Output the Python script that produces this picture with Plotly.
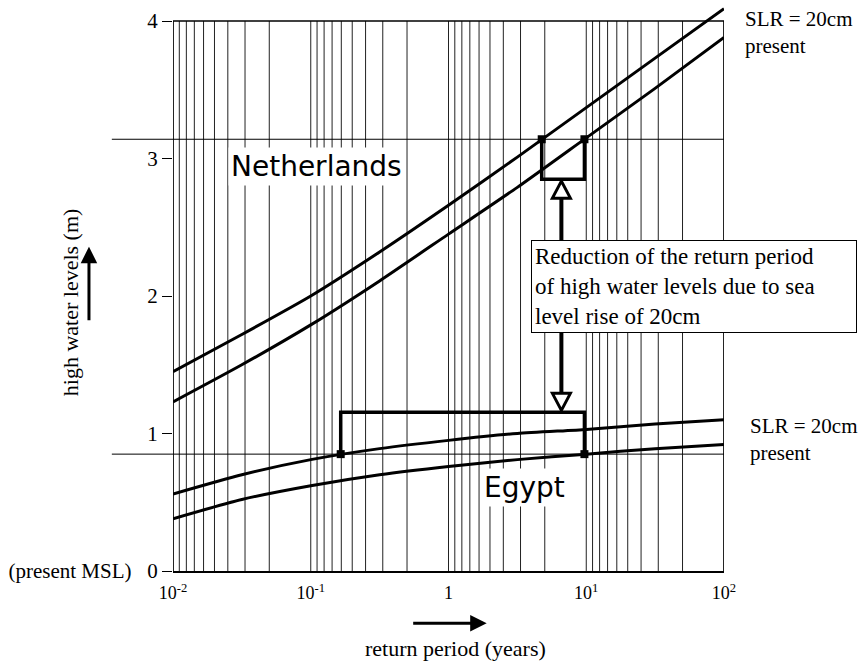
import math
import plotly.graph_objects as go

# ---- data ----
periods = [0.01, 0.0316, 0.1, 0.316, 1, 3.16, 10, 31.6, 100]          # return period (years)
nl_slr = [1.45, 1.72, 2.00, 2.32, 2.66, 3.01, 3.37, 3.73, 4.09]       # Netherlands, SLR = 20cm
nl_present = [1.23, 1.50, 1.79, 2.11, 2.45, 2.79, 3.15, 3.51, 3.88]   # Netherlands, present
eg_slr = [0.56, 0.70, 0.81, 0.89, 0.95, 1.00, 1.03, 1.07, 1.10]       # Egypt, SLR = 20cm
eg_present = [0.38, 0.52, 0.62, 0.70, 0.76, 0.81, 0.85, 0.89, 0.92]   # Egypt, present

nl_level = 3.14            # reference high water level, Netherlands
eg_level = 0.85            # reference high water level, Egypt
nl_periods = [4.75, 9.7]   # return period with SLR, present
eg_periods = [0.165, 9.7]
nl_bracket_y = 2.85
eg_bracket_y = 1.154
arrow_period = 6.6

x_ticks = [0.01, 0.1, 1, 10, 100]
x_ticktext = ["10<sup>-2</sup>", "10<sup>-1</sup>", "1", "10<sup>1</sup>", "10<sup>2</sup>"]
y_ticks = [0, 1, 2, 3, 4]
y_ticktext = ["(present MSL)\u00a0\u00a0\u00a00", "1", "2", "3", "4"]

# grid lines: each decade and decade/m (m = 2..9), as on the original paper
grid = []
for d in x_ticks[1:]:
    for m in range(9, 1, -1):
        grid.append(d / m)
grid += x_ticks
grid = sorted(set(round(g, 8) for g in grid))

SERIF = "Liberation Serif, Times New Roman, serif"
SANS = "DejaVu Sans, sans-serif"

fig = go.Figure()

# vertical grid lines (0 .. 4)
gx, gy = [], []
for g in grid:
    gx += [g, g, None]
    gy += [0, 4, None]
fig.add_trace(go.Scatter(x=gx, y=gy, mode="lines", line=dict(color="#222", width=1),
                         hoverinfo="skip", showlegend=False))

# curves
for ys in (nl_slr, nl_present, eg_slr, eg_present):
    fig.add_trace(go.Scatter(x=periods, y=ys, mode="lines",
                             line=dict(color="black", width=3, shape="spline", smoothing=0.6),
                             showlegend=False))

# brackets
fig.add_trace(go.Scatter(x=[nl_periods[0], nl_periods[0], nl_periods[1], nl_periods[1]],
                         y=[nl_level, nl_bracket_y, nl_bracket_y, nl_level],
                         mode="lines", line=dict(color="black", width=3.5), showlegend=False))
fig.add_trace(go.Scatter(x=[eg_periods[0], eg_periods[0], eg_periods[1], eg_periods[1]],
                         y=[eg_level, eg_bracket_y, eg_bracket_y, eg_level],
                         mode="lines", line=dict(color="black", width=3.5), showlegend=False))
# intersection markers
fig.add_trace(go.Scatter(x=nl_periods + eg_periods, y=[nl_level] * 2 + [eg_level] * 2,
                         mode="markers", marker=dict(symbol="square", size=8, color="black"),
                         showlegend=False))
# arrow shaft between the two brackets
fig.add_trace(go.Scatter(x=[arrow_period, arrow_period], y=[nl_bracket_y - 0.13, eg_bracket_y + 0.13],
                         mode="lines", line=dict(color="black", width=4), showlegend=False))

shapes = []
# frame: top line at 4, right border at 100, left axis line
shapes.append(dict(type="line", xref="x", yref="y", x0=0.01, x1=100, y0=4, y1=4,
                   line=dict(color="black", width=1.5)))
shapes.append(dict(type="line", xref="x", yref="y", x0=100, x1=100, y0=0, y1=4,
                   line=dict(color="black", width=1.5)))
shapes.append(dict(type="line", xref="x", yref="y", x0=0.01, x1=0.01, y0=0, y1=4,
                   line=dict(color="black", width=1.5)))
# horizontal reference levels (extend into left margin)
for lvl in (nl_level, eg_level):
    shapes.append(dict(type="line", xref="paper", yref="y", x0=-0.111, x1=1, y0=lvl, y1=lvl,
                       line=dict(color="black", width=1)))
# open arrowheads
shapes.append(dict(type="path", xref="x", yref="y", xsizemode="pixel", ysizemode="pixel",
                   xanchor=arrow_period, yanchor=nl_bracket_y,
                   path="M 0 -2 L 9 -19 L -9 -19 Z", fillcolor="white",
                   line=dict(color="black", width=3)))
shapes.append(dict(type="path", xref="x", yref="y", xsizemode="pixel", ysizemode="pixel",
                   xanchor=arrow_period, yanchor=eg_bracket_y,
                   path="M 0 2 L 9 19 L -9 19 Z", fillcolor="white",
                   line=dict(color="black", width=3)))

annotations = [
    dict(text="Reduction of the return period<br>of high water levels due to sea<br>level rise of 20cm",
         xref="paper", yref="paper", x=0.6497, y=0.5838, xanchor="left", yanchor="top",
         showarrow=False, align="left", width=318, font=dict(family=SERIF, size=23, color="black"),
         bgcolor="white", bordercolor="black", borderwidth=1, borderpad=3),
    dict(text="Netherlands", xref="x", yref="y", x=math.log10(0.11), y=2.94,
         xanchor="center", yanchor="middle",
         showarrow=False, font=dict(family=SANS, size=28, color="black"),
         bgcolor="white", borderpad=2),
    dict(text="Egypt", xref="x", yref="y", x=math.log10(3.57), y=0.61,
         xanchor="center", yanchor="middle",
         showarrow=False, font=dict(family=SANS, size=28, color="black"),
         bgcolor="white", borderpad=2),
    dict(text="SLR = 20cm<br>present", xref="paper", yref="paper", x=1.0345, y=0.949,
         xanchor="left", yanchor="middle", showarrow=False, align="left",
         font=dict(family=SERIF, size=21, color="black")),
    dict(text="SLR = 20cm<br>present", xref="paper", yref="paper", x=1.0436, y=0.2328,
         xanchor="left", yanchor="middle", showarrow=False, align="left",
         font=dict(family=SERIF, size=21, color="black")),
    dict(text="high water levels (m)", xref="paper", yref="paper", x=-0.187, y=0.474,
         xanchor="center", yanchor="middle",
         textangle=-90, showarrow=False, font=dict(family=SERIF, size=22, color="black")),
    dict(text="return period (years)", xref="paper", yref="paper", x=0.512, y=-0.136,
         xanchor="center", yanchor="middle",
         showarrow=False, font=dict(family=SERIF, size=22, color="black")),
    # axis-direction arrows
    dict(text="", xref="paper", yref="paper", x=-0.1525, y=0.572, ax=0, ay=75,
         showarrow=True, arrowhead=2, arrowsize=1.1, arrowwidth=3, arrowcolor="black"),
    dict(text="", xref="paper", yref="paper", x=0.5693, y=-0.0923, ax=-75, ay=0,
         showarrow=True, arrowhead=2, arrowsize=1.1, arrowwidth=3, arrowcolor="black"),
]

fig.update_layout(
    width=860, height=662,
    margin=dict(l=173, r=136, t=4, b=91),
    paper_bgcolor="white", plot_bgcolor="rgba(0,0,0,0)",
    shapes=shapes, annotations=annotations, showlegend=False,
    xaxis=dict(type="log", range=[-2, 2], tickvals=x_ticks, ticktext=x_ticktext,
               ticks="", showgrid=False, zeroline=False, showline=True,
               linecolor="black", linewidth=1.5, ticklabelstandoff=5,
               tickfont=dict(family=SERIF, size=18, color="black")),
    yaxis=dict(range=[0, 567 / 137.5], tickvals=y_ticks, ticktext=y_ticktext,
               ticks="outside", ticklen=10, tickwidth=1, tickcolor="black",
               showgrid=False, zeroline=False, showline=False,
               tickfont=dict(family=SERIF, size=21, color="black")),
)

fig.write_html("out.html", config={"displayModeBar": False},
               post_script="document.body.style.margin='0';")
